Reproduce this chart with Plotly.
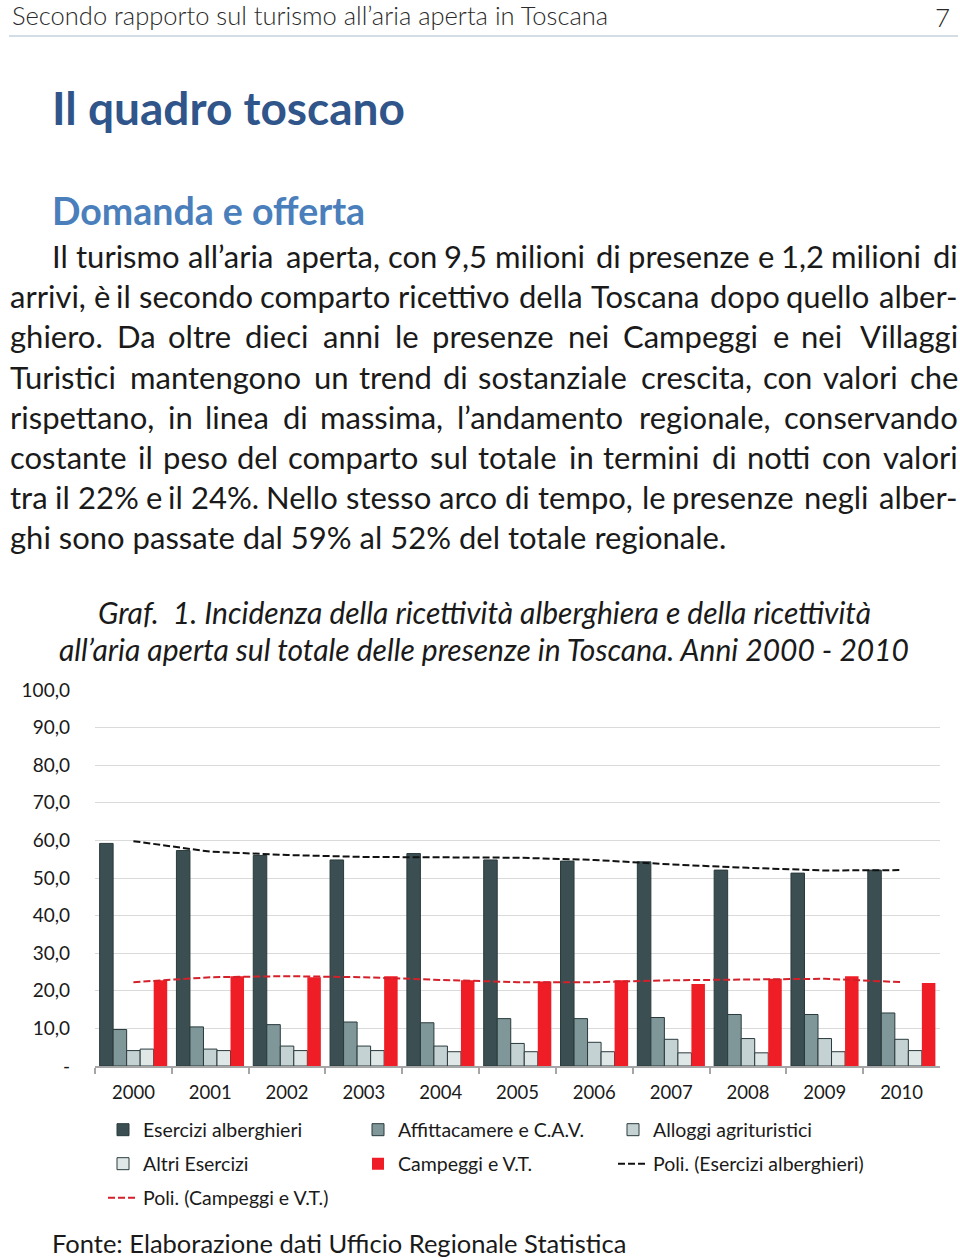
import plotly.graph_objects as go

# ---------------- data ----------------
years = ["2000", "2001", "2002", "2003", "2004", "2005", "2006", "2007", "2008", "2009", "2010"]
esercizi_alberghieri = [59.2, 57.3, 56.0, 54.8, 56.5, 54.8, 54.5, 54.3, 52.1, 51.3, 52.1]
affittacamere_cav = [9.7, 10.4, 11.0, 11.7, 11.5, 12.6, 12.6, 12.9, 13.7, 13.7, 14.1]
alloggi_agrituristici = [4.1, 4.5, 5.3, 5.3, 5.3, 6.0, 6.3, 7.1, 7.3, 7.3, 7.1]
altri_esercizi = [4.5, 4.1, 4.1, 4.1, 3.8, 3.8, 3.8, 3.5, 3.5, 3.8, 4.1]
campeggi_vt = [22.8, 23.9, 23.6, 23.9, 22.8, 22.5, 22.8, 21.8, 23.2, 23.9, 22.1]
poli_esercizi = [59.8, 57.0, 56.1, 55.6, 55.5, 55.4, 54.8, 53.6, 52.7, 52.0, 52.1]
poli_campeggi = [22.3, 23.6, 23.9, 23.6, 22.9, 22.3, 22.3, 22.8, 23.0, 23.2, 22.3]

ytick_vals = [0, 10, 20, 30, 40, 50, 60, 70, 80, 90, 100]
ytick_text = ["-", "10,0", "20,0", "30,0", "40,0", "50,0", "60,0", "70,0", "80,0", "90,0", "100,0"]

header_text = "Secondo rapporto sul turismo all’aria aperta in Toscana"
page_number = "7"
title_text = "Il quadro toscano"
subtitle_text = "Domanda e offerta"
body_lines = [
    "Il turismo all’aria aperta, con 9,5 milioni di presenze e 1,2 milioni di",
    "arrivi, è il secondo comparto ricettivo della Toscana dopo quello alber-",
    "ghiero. Da oltre dieci anni le presenze nei Campeggi e nei Villaggi",
    "Turistici mantengono un trend di sostanziale crescita, con valori che",
    "rispettano, in linea di massima, l’andamento regionale, conservando",
    "costante il peso del comparto sul totale in termini di notti con valori",
    "tra il 22% e il 24%. Nello stesso arco di tempo, le presenze negli alber-",
    "ghi sono passate dal 59% al 52% del totale regionale.",
]
caption_lines = [
    "Graf.  1. Incidenza della ricettività alberghiera e della ricettività",
    "all’aria aperta sul totale delle presenze in Toscana. Anni 2000 - 2010",
]
source_text = "Fonte: Elaborazione dati Ufficio Regionale Statistica"

# ---------------- figure ----------------
W, H = 960, 1258
FONT = "Lato, 'Open Sans', sans-serif"


def py(y):
    return 1 - y / H


def px(x):
    return x / W


fig = go.Figure()

bar_specs = [
    ("Esercizi alberghieri", esercizi_alberghieri, "#3b4f52", "#2a3a3c", 1, "legend"),
    ("Affittacamere e C.A.V.", affittacamere_cav, "#7f9799", "#2a3a3c", 1, "legend"),
    ("Alloggi agrituristici", alloggi_agrituristici, "#c5d2d3", "#2a3a3c", 1, "legend"),
    ("Altri Esercizi", altri_esercizi, "#dfe7e7", "#2a3a3c", 1, "legend2"),
    ("Campeggi e V.T.", campeggi_vt, "#ef1d25", "#ef1d25", 0, "legend2"),
]
for name, vals, col, lcol, lw, lg in bar_specs:
    fig.add_trace(go.Bar(
        x=years, y=vals, name=name, legend=lg,
        marker=dict(color=col, line=dict(color=lcol, width=lw)),
    ))

fig.add_trace(go.Scatter(
    x=years, y=poli_esercizi, mode="lines", name="Poli. (Esercizi alberghieri)", legend="legend2",
    line=dict(color="#111111", width=2, dash="7px,3px"),
))
fig.add_trace(go.Scatter(
    x=years, y=poli_campeggi, mode="lines", name="Poli. (Campeggi e V.T.)", legend="legend3",
    line=dict(color="#d4202a", width=2, dash="7px,3px"),
))

LEG_FONT = dict(size=19.5, color="#1a1a1a", family=FONT)


def legend_row(yc):
    return dict(
        orientation="h", x=px(103), xanchor="left", y=py(yc), yanchor="middle",
        entrywidth=210, entrywidthmode="pixels",
        font=LEG_FONT, bgcolor="rgba(0,0,0,0)", itemwidth=30,
    )


fig.update_layout(
    width=W, height=H,
    margin=dict(l=0, r=0, t=0, b=0, autoexpand=False),
    paper_bgcolor="white", plot_bgcolor="white",
    barmode="group", bargap=0.12, bargroupgap=0,
    font=dict(family=FONT, color="#1a1a1a"),
    showlegend=True,
    legend=legend_row(1130),
    legend2=legend_row(1164),
    legend3=legend_row(1198),
    xaxis=dict(
        domain=[px(95), px(940)],
        type="category", tickangle=0,
        showline=True, linecolor="#a6a6a6", linewidth=1.5,
        ticks="outside", tickson="boundaries", ticklen=6, tickcolor="#a6a6a6", tickwidth=1.5,
        ticklabelstandoff=9,
        tickfont=dict(size=18.5, color="#1a1a1a", family=FONT),
        showgrid=False,
    ),
    yaxis=dict(
        domain=[py(1066), py(690)],
        range=[0, 100],
        tickvals=ytick_vals, ticktext=ytick_text,
        showgrid=True, gridcolor="#dadada", gridwidth=1,
        zeroline=False, showline=False, ticks="",
        ticklabelstandoff=24,
        tickfont=dict(size=19, color="#1a1a1a", family=FONT),
    ),
)

annotations = []


def ann(x, y, text, xanchor, font):
    annotations.append(dict(xref="paper", yref="paper", x=px(x), y=py(y), text=text, showarrow=False,
                            xanchor=xanchor, yanchor="middle", font=font))


# approximate relative glyph widths (em) used only to spread words for justified lines
CW = {
    "a": .51, "b": .56, "c": .46, "d": .56, "e": .52, "f": .33, "g": .50, "h": .56, "i": .26, "j": .26,
    "k": .50, "l": .26, "m": .84, "n": .56, "o": .56, "p": .56, "q": .56, "r": .36, "s": .43, "t": .36,
    "u": .56, "v": .50, "w": .76, "x": .48, "y": .50, "z": .45, "è": .52, "à": .51,
    "I": .29, "T": .55, "D": .70, "C": .64, "V": .66, "N": .72, ",": .23, ".": .23, "’": .21,
    "-": .34, "%": .78, ":": .24,
}
SPACE = .18
PAD = 2  # annotation border + pad offset of the text inside its box
# natural widths (em) of each body line measured in a test render with this font
natural_em = [28.92, 30.46, 28.31, 29.42, 29.27, 29.42, 30.50, 23.08]

BODY_SIZE = 31
RIGHT = 958
body_font = dict(size=BODY_SIZE, color="#1a1a1a", family=FONT)

# header
ann(10, 15, header_text, "left", dict(size=25.5, color="#2a2a2a", family=FONT, weight=300))
ann(952, 17, page_number, "right", dict(size=26, color="#2a2a2a", family=FONT, weight=300))
# title / subtitle
ann(50, 108, "<b>" + title_text + "</b>", "left", dict(size=46, color="#2f558a", family=FONT))
ann(50, 211, "<b>" + subtitle_text + "</b>", "left", dict(size=37.5, color="#4a7fbc", family=FONT))

# body (justified except last line)
for i, line in enumerate(body_lines):
    x0 = 52 if i == 0 else 10
    yc = 256 + 40.2 * i
    if i == len(body_lines) - 1:
        ann(x0 - PAD, yc, line, "left", body_font)
        continue
    words = line.split(" ")
    tw = [sum(CW.get(ch, .58) for ch in w) for w in words]
    table_line = sum(tw) + SPACE * (len(words) - 1)
    k = natural_em[i] / table_line * BODY_SIZE
    wpx = [t * k for t in tw]
    gap = (RIGHT - x0 - sum(wpx)) / (len(words) - 1)
    xpos = x0
    for j, w in enumerate(words):
        if j == len(words) - 1:
            ann(RIGHT + PAD, yc, w, "right", body_font)
        else:
            ann(xpos - PAD, yc, w, "left", body_font)
        xpos += wpx[j] + gap

# caption
for i, line in enumerate(caption_lines):
    ann(484, 612 + 37 * i, "<i>" + line + "</i>", "center", dict(size=30, color="#1a1a1a", family=FONT))
# source
ann(50, 1243, source_text, "left", dict(size=25.5, color="#1a1a1a", family=FONT))
fig.update_layout(annotations=annotations)

fig.add_shape(type="line", xref="paper", yref="paper", x0=px(9), x1=px(958), y0=py(36), y1=py(36),
              line=dict(color="#a9bccb", width=1))

fig.write_html("out.html")
